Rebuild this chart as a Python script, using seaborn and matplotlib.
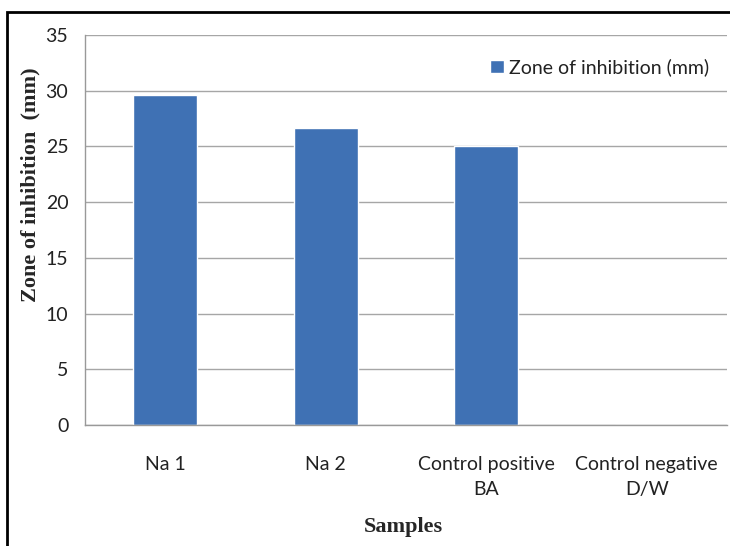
import matplotlib
matplotlib.use("Agg")
import matplotlib.pyplot as plt
import seaborn as sns
import pandas as pd
from matplotlib.patches import Rectangle

categories = ["Na 1", "Na 2", "Control positive\nBA", "Control negative\nD/W"]
values = [29.6, 26.65, 25.0, 0.0]
series_name = "Zone of inhibition (mm)"
yticks = [0, 5, 10, 15, 20, 25, 30, 35]

df = pd.DataFrame({"Sample": categories, "Value": values, "Series": series_name})

sns.set_theme(style="white")
plt.rcParams["font.family"] = ["Lato", "DejaVu Sans"]

W, H = 730, 546
fig = plt.figure(figsize=(W / 100, H / 100), dpi=100)
ax = fig.add_axes([85 / W, 1 - 425 / H, (727 - 85) / W, (425 - 35) / H])

bar_color = "#3F71B4"
sns.barplot(data=df, x="Sample", y="Value", hue="Series", palette=[bar_color],
            width=0.4, ax=ax, saturation=1, legend=True)

ax.set_ylim(0, 35)
ax.set_xlim(-0.5, 3.5)
ax.set_yticks(yticks)
ax.set_yticklabels([str(t) for t in yticks], fontsize=14, color="#222222")
ax.set_xticks(range(len(categories)))
ax.set_xticklabels(categories, fontsize=14, color="#222222", linespacing=1.6)
ax.tick_params(axis="x", which="major", length=0, pad=22)
ax.set_xticks([-0.5, 0.5, 1.5, 2.5, 3.5], minor=True)
ax.tick_params(axis="x", which="minor", length=8, width=1, color="#999999", direction="out")
ax.tick_params(axis="y", which="major", length=7, width=1, color="#999999", direction="out", pad=5)

ax.grid(axis="y", color="#a6a6a6", linewidth=1)
ax.set_axisbelow(True)
for s in ["top", "right"]:
    ax.spines[s].set_visible(False)
for s in ["left", "bottom"]:
    ax.spines[s].set_color("#999999")
    ax.spines[s].set_linewidth(1)

ax.set_xlabel("")
ax.set_ylabel("")

leg = ax.legend(loc="upper right", bbox_to_anchor=(1.0, 0.985), frameon=False,
                fontsize=14, handlelength=0.7, handleheight=0.7, handletextpad=0.3)
for t in leg.get_texts():
    t.set_color("#222222")

fig.text(30 / W, 1 - 185 / H, "Zone of inhibition  (mm)", rotation=90,
         ha="center", va="center", fontsize=16, fontweight="bold",
         family="Liberation Serif")
fig.text(403 / W, 1 - 527 / H, "Samples", ha="center", va="center",
         fontsize=16, fontweight="bold", family="Liberation Serif")

fig.patches.append(Rectangle((7 / W, -0.5), 2, 0.5 + 1 - 12 / H, transform=fig.transFigure,
                             fill=False, edgecolor="black", linewidth=2, zorder=10))

fig.savefig("out.png", dpi=100)
